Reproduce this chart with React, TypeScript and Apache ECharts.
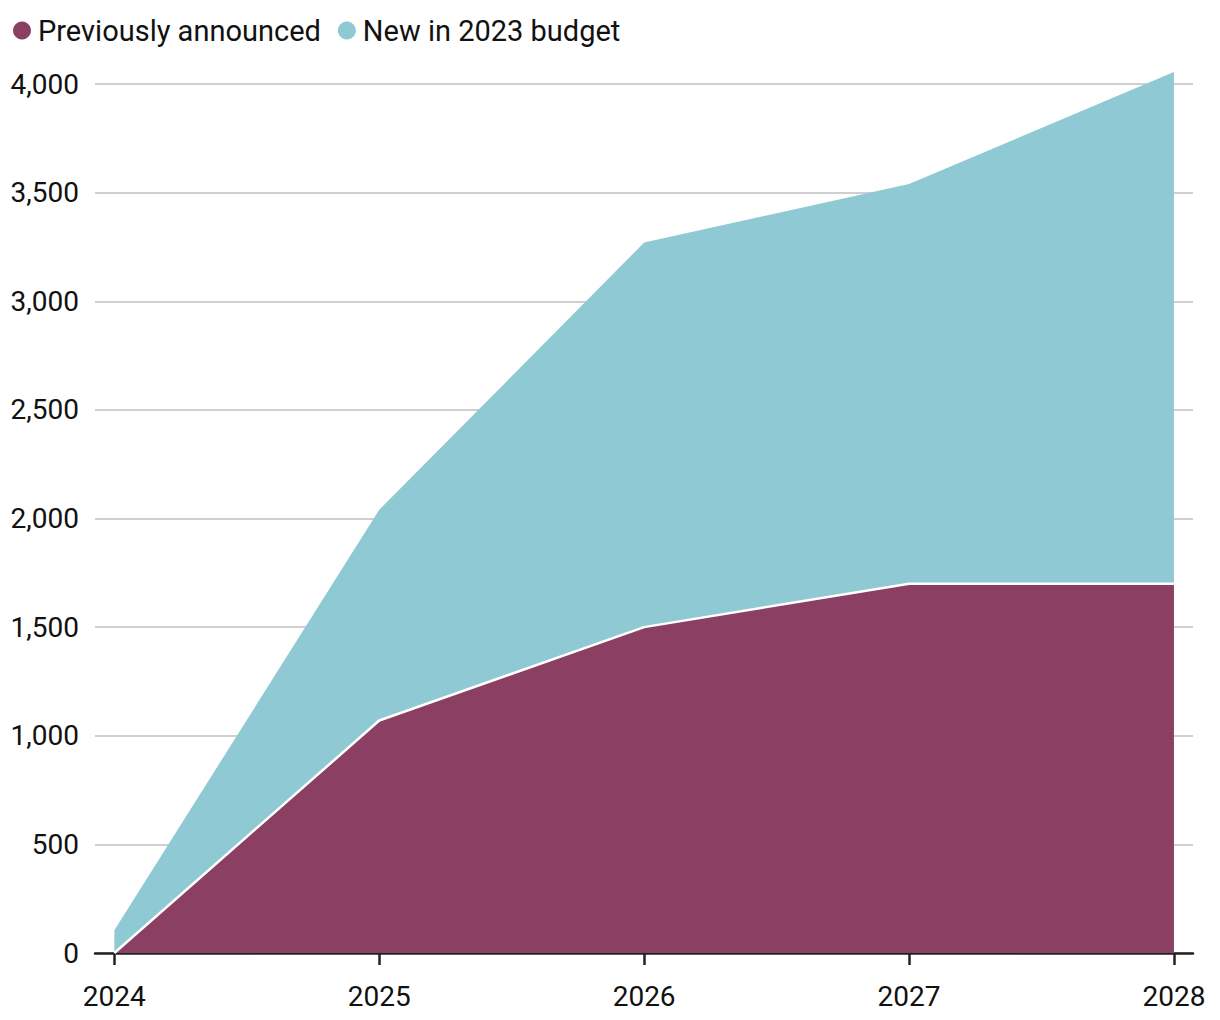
import React, { useEffect, useRef } from "react";
import * as echarts from "echarts";

const years = [2024, 2025, 2026, 2027, 2028];
const previouslyAnnounced = [0, 1070, 1500, 1700, 1700];
const newIn2023Budget = [105, 970, 1770, 1840, 2355];
const yTicks = [0, 500, 1000, 1500, 2000, 2500, 3000, 3500, 4000];

const PURPLE = "#8b3f62";
const BLUE = "#8fc9d3";
const FONT = "Roboto";

export default function App() {
  const ref = useRef<HTMLDivElement>(null);
  useEffect(() => {
    if (!ref.current) return;
    const chart = echarts.init(ref.current, undefined, { renderer: "svg" });
    const totals = years.map((_, i) => previouslyAnnounced[i] + newIn2023Budget[i]);
    chart.setOption({
      animation: false,
      legend: {
        left: 8,
        top: 11,
        icon: "circle",
        itemWidth: 18,
        itemHeight: 18,
        itemGap: 17,
        textStyle: { fontFamily: FONT, fontSize: 29, color: "#111", padding: [0, 0, 0, 2] },
        data: ["Previously announced", "New in 2023 budget"],
      },
      grid: { left: 95, right: 27, top: 84, bottom: 67, containLabel: false },
      xAxis: {
        type: "value",
        min: 2023.927,
        max: 2028.072,
        splitLine: { show: false },
        axisLine: { show: true, lineStyle: { color: "#222", width: 2.5 } },
        axisTick: { show: true, customValues: years, length: 12, lineStyle: { color: "#222", width: 2.5 } },
        axisLabel: {
          customValues: years,
          formatter: (v: number) => String(v),
          fontFamily: FONT,
          fontSize: 28,
          color: "#111",
          margin: 29,
        },
      },
      yAxis: {
        type: "value",
        min: 0,
        max: 4000,
        interval: 500,
        axisLine: { show: false },
        axisTick: { show: false },
        splitLine: { lineStyle: { color: "#cfcfcf", width: 2 } },
        axisLabel: {
          fontFamily: FONT,
          fontSize: 28,
          color: "#111",
          margin: 16,
          formatter: (v: number) => (yTicks.includes(v) ? v.toLocaleString("en-US") : ""),
        },
      },
      series: [
        {
          name: "Previously announced",
          type: "line",
          clip: false,
          z: 4,
          showSymbol: false,
          symbol: "none",
          itemStyle: { color: PURPLE },
          lineStyle: { color: "#ffffff", width: 2.5 },
          areaStyle: { color: PURPLE, opacity: 1 },
          data: years.map((y, i) => [y, previouslyAnnounced[i]]),
        },
        {
          name: "New in 2023 budget",
          type: "line",
          clip: false,
          z: 3,
          showSymbol: false,
          symbol: "none",
          itemStyle: { color: BLUE },
          lineStyle: { color: BLUE, width: 0 },
          areaStyle: { color: BLUE, opacity: 1 },
          data: years.map((y, i) => [y, totals[i]]),
        },
      ],
    });
    return () => chart.dispose();
  }, []);
  return (
    <div
      ref={ref}
      style={{ position: "fixed", left: 0, top: 0, width: 1220, height: 1020, background: "#fff" }}
    />
  );
}
